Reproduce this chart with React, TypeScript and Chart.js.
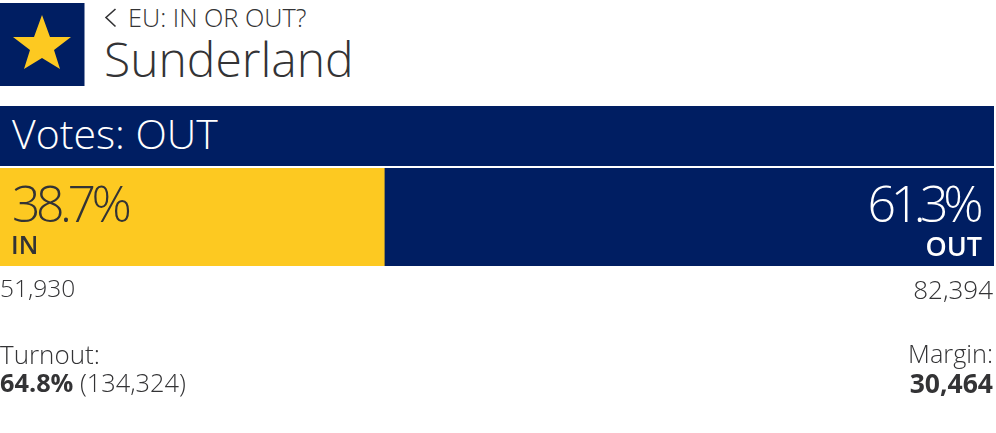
import React, { useEffect, useRef } from "react";
import { Chart, registerables } from "chart.js";

Chart.register(...registerables);

const categories = ["Votes"];
const inVotes = [51930];
const outVotes = [82394];
const totalVotes = 134324;
const inLabel = "38.7%";
const outLabel = "61.3%";
const marginLabel = "30,464";
const turnoutLabel = "64.8%";

const NAVY = "#001e62";
const YELLOW = "#fdc921";
const INK = "#333335";
const FONT = "'Open Sans', sans-serif";

function T(props: { x?: number; r?: number; y: number; size: number; color?: string; weight?: number; spacing?: number; children: React.ReactNode }) {
  const { x, r, y, size, color = INK, weight = 400, spacing = 0, children } = props;
  return (
    <div
      style={{
        position: "absolute",
        left: x,
        right: r !== undefined ? 996 - r : undefined,
        top: y,
        fontSize: size,
        lineHeight: `${size}px`,
        color,
        fontWeight: weight,
        letterSpacing: spacing,
        fontFamily: FONT,
        whiteSpace: "pre",
      }}
    >
      {children}
    </div>
  );
}

export default function App() {
  const ref = useRef<HTMLCanvasElement>(null);
  useEffect(() => {
    const chart = new Chart(ref.current!, {
      type: "bar",
      data: {
        labels: categories,
        datasets: [
          { label: "IN", data: inVotes, backgroundColor: YELLOW, borderWidth: 0 },
          { label: "OUT", data: outVotes, backgroundColor: NAVY, borderWidth: 0 },
        ],
      },
      options: {
        indexAxis: "y",
        animation: false,
        responsive: false,
        maintainAspectRatio: false,
        layout: { padding: 0 },
        datasets: { bar: { barPercentage: 1, categoryPercentage: 1 } },
        plugins: { legend: { display: false }, tooltip: { enabled: false }, title: { display: false } },
        scales: {
          x: { stacked: true, display: false, min: 0, max: totalVotes },
          y: { stacked: true, display: false },
        },
      },
    });
    return () => chart.destroy();
  }, []);

  return (
    <div style={{ position: "fixed", left: 0, top: 0, width: 996, height: 433, background: "#fff", overflow: "hidden" }}>
      <svg style={{ position: "absolute", left: 0, top: 3 }} width={85} height={83} viewBox="0 0 85 83">
        <rect x={0} y={0} width={84.5} height={83} fill={NAVY} />
        <polygon points="42,12 50,34 71,34 54,47 60,66 42,55 24,66 30,47 13,34 34,34" fill={YELLOW} />
      </svg>
      <svg style={{ position: "absolute", left: 104, top: 7 }} width={14} height={22} viewBox="0 0 14 22">
        <polyline points="11.5,2 2,10.5 11.5,19.5" fill="none" stroke={INK} strokeWidth={1.6} />
      </svg>
      <T x={128} y={5} size={25.3} weight={300}>EU: IN OR OUT?</T>
      <T x={104} y={35} size={48} weight={300}>Sunderland</T>

      <div style={{ position: "absolute", left: 0, top: 106, width: 994, height: 60, background: NAVY }} />
      <T x={12} y={113} size={41} color="#fff" weight={300}>Votes: OUT</T>

      <canvas ref={ref} width={994} height={98} style={{ position: "absolute", left: 0, top: 168, width: 994, height: 98, display: "block" }} />

      <T x={12} y={178} size={50} weight={300} spacing={-4.5}>{inLabel}</T>
      <T x={11} y={232} size={25} weight={600}>IN</T>
      <T r={978} y={178} size={50} color="#fff" weight={300} spacing={-5.5}>{outLabel}</T>
      <T r={982} y={232} size={27} color="#fff" weight={600}>OUT</T>

      <T x={0} y={276} size={24.5} weight={300}>51,930</T>
      <T r={993} y={276} size={26} weight={300}>82,394</T>

      <T x={0} y={341} size={26} weight={300}>Turnout:</T>
      <div style={{ position: "absolute", left: 0, top: 370, fontSize: 25.3, lineHeight: "25px", color: INK, fontFamily: FONT, fontWeight: 300, whiteSpace: "pre" }}>
        <span style={{ fontWeight: 700 }}>{turnoutLabel}</span> (134,324)
      </div>
      <T r={993} y={341} size={25.3} weight={300}>Margin:</T>
      <T r={993} y={370} size={26.5} weight={700}>{marginLabel}</T>
    </div>
  );
}
